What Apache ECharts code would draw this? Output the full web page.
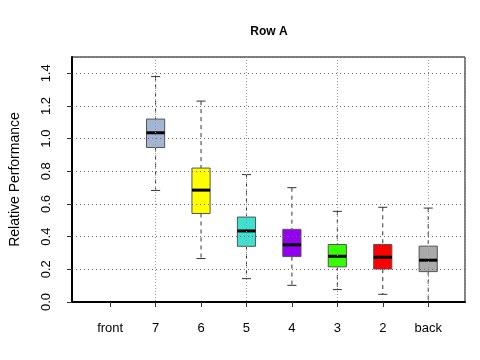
<!DOCTYPE html>
<html>
<head>
<meta charset="utf-8">
<script src="https://cdn.jsdelivr.net/npm/echarts@6/dist/echarts.min.js"></script>
<style>
  html, body { margin: 0; padding: 0; background: #fff; }
  #myChart { width: 480px; height: 360px; }
</style>
</head>
<body>
<div id="myChart"></div>
<script>
// box statistics per position (front has no data)
const categories = ['front', '7', '6', '5', '4', '3', '2', 'back'];
const whiskerHigh = [null, 1.38, 1.23, 0.78, 0.70, 0.555, 0.58, 0.575];
const q3 = [null, 1.12, 0.82, 0.52, 0.445, 0.352, 0.352, 0.342];
const median = [null, 1.036, 0.685, 0.435, 0.35, 0.28, 0.274, 0.256];
const q1 = [null, 0.946, 0.542, 0.341, 0.278, 0.215, 0.202, 0.186];
const whiskerLow = [null, 0.683, 0.266, 0.143, 0.102, 0.076, 0.047, 0.0];
const boxColors = [null, '#a2b5d3', '#ffff00', '#40e0d0', '#9400f0', '#33ff00', '#ff0000', '#aaaaaa'];
const yTicks = [0, 0.2, 0.4, 0.6, 0.8, 1.0, 1.2, 1.4];

const positions = categories.map((c, i) => i + 1);
const boxData = [];
positions.forEach((p, i) => {
  if (median[i] == null) return;
  boxData.push([p, whiskerLow[i], q1[i], median[i], q3[i], whiskerHigh[i], i]);
});

const font = 'Liberation Sans, Arial, sans-serif';

function renderBox(params, api) {
  const x = api.value(0);
  const pLo = api.coord([x, api.value(1)]);
  const pQ1 = api.coord([x, api.value(2)]);
  const pMed = api.coord([x, api.value(3)]);
  const pQ3 = api.coord([x, api.value(4)]);
  const pHi = api.coord([x, api.value(5)]);
  const half = api.size([0.2, 0])[0];
  const cap = api.size([0.1, 0])[0];
  const whisk = { stroke: '#333', lineWidth: 1, lineDash: [4, 4] };
  const solid = { stroke: '#333', lineWidth: 1 };
  return {
    type: 'group',
    children: [
      { type: 'line', shape: { x1: pHi[0], y1: pHi[1], x2: pQ3[0], y2: pQ3[1] }, style: whisk },
      { type: 'line', shape: { x1: pQ1[0], y1: pQ1[1], x2: pLo[0], y2: pLo[1] }, style: whisk },
      { type: 'line', shape: { x1: pHi[0] - cap, y1: pHi[1], x2: pHi[0] + cap, y2: pHi[1] }, style: solid },
      { type: 'line', shape: { x1: pLo[0] - cap, y1: pLo[1], x2: pLo[0] + cap, y2: pLo[1] }, style: solid },
      {
        type: 'rect',
        shape: { x: pQ3[0] - half, y: pQ3[1], width: half * 2, height: pQ1[1] - pQ3[1] },
        style: { fill: boxColors[api.value(6)], stroke: '#555', lineWidth: 1 }
      },
      { type: 'line', shape: { x1: pMed[0] - half, y1: pMed[1], x2: pMed[0] + half, y2: pMed[1] }, style: { stroke: '#000', lineWidth: 3 } }
    ]
  };
}

const myChart = echarts.init(document.getElementById('myChart'), null, { renderer: 'canvas' });
myChart.setOption({
  animation: false,
  title: {
    text: 'Row A',
    left: 264,
    textAlign: 'center',
    top: 21,
    textStyle: { fontFamily: font, fontSize: 12, fontWeight: 'bold', color: '#000' }
  },
  grid: {
    left: 71, right: 15, top: 57, bottom: 58,
    show: true, borderColor: '#000', borderWidth: 1,
    containLabel: false
  },
  xAxis: [
    {
      type: 'value',
      min: 0.16,
      max: 8.81,
      z: 3,
      axisLine: { show: true, onZero: false, lineStyle: { color: '#000', width: 2 } },
      axisTick: { show: true, length: 5, customValues: positions, lineStyle: { color: '#333' } },
      axisLabel: {
        customValues: positions,
        margin: 20,
        fontFamily: font, fontSize: 13, color: '#000',
        formatter: v => categories[Math.round(v) - 1]
      },
      splitLine: { show: false }
    },
    {
      type: 'value',
      min: 0.16,
      max: 8.81,
      splitNumber: 4,
      position: 'top',
      z: 3,
      axisLine: { show: false },
      axisTick: { show: false },
      axisLabel: { show: false },
      splitLine: { show: true, lineStyle: { type: [1, 2], color: '#999', width: 1 } }
    }
  ],
  yAxis: {
    type: 'value',
    min: 0,
    max: 1.5,
    interval: 0.2,
    z: 3,
    name: 'Relative Performance',
    nameLocation: 'middle',
    nameGap: 50,
    nameTextStyle: { fontFamily: font, fontSize: 14, color: '#000' },
    axisLine: { show: true, onZero: false, lineStyle: { color: '#000', width: 2 } },
    axisTick: { show: true, length: 5, lineStyle: { color: '#333' } },
    axisLabel: {
      rotate: 90,
      margin: 19,
      showMaxLabel: false,
      fontFamily: font, fontSize: 13, color: '#000',
      formatter: v => yTicks.some(t => Math.abs(t - v) < 1e-6) ? v.toFixed(1) : ''
    },
    splitLine: { show: true, lineStyle: { type: [1, 3], color: '#666', width: 1 } }
  },
  series: [
    {
      type: 'custom',
      xAxisIndex: 0,
      renderItem: renderBox,
      encode: { x: 0, y: [1, 2, 3, 4, 5] },
      data: boxData,
      z: 2
    }
  ]
});
</script>
</body>
</html>
